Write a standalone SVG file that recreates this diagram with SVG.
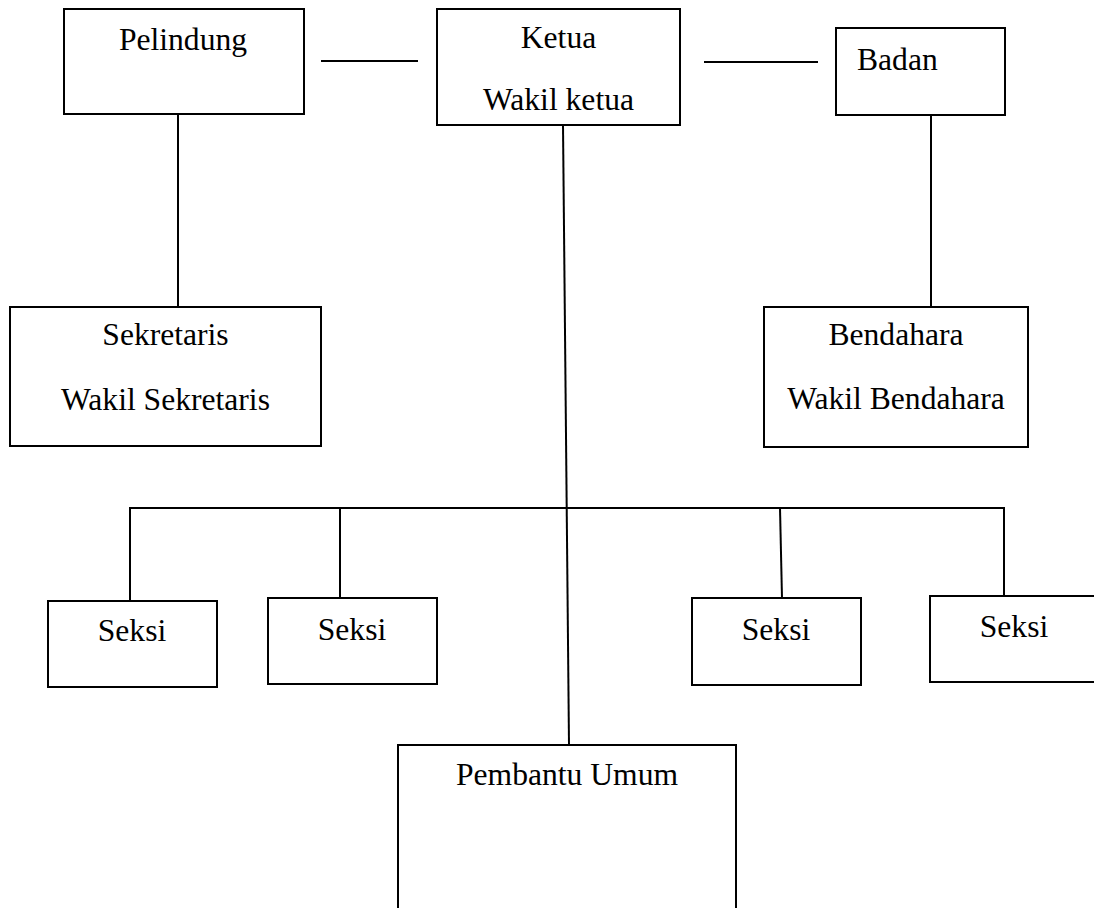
<svg xmlns="http://www.w3.org/2000/svg" width="1094" height="908" viewBox="0 0 1094 908">
<style>
.box{fill:#fff;stroke:#000;stroke-width:2}
.ln{stroke:#000;stroke-width:2;fill:none}
text{font-family:"Liberation Serif","Times New Roman",serif;font-size:31.6px;fill:#000}
.c{text-anchor:middle}
</style>
<rect width="1094" height="908" fill="#fff"/>
<g id="connectors">
<line class="ln" x1="321" y1="61" x2="418" y2="61"/>
<line class="ln" x1="704" y1="62" x2="818" y2="62"/>
<line class="ln" x1="178" y1="114" x2="178" y2="307"/>
<line class="ln" x1="931" y1="115" x2="931" y2="307"/>
<line class="ln" x1="563" y1="125" x2="569" y2="745"/>
<line class="ln" x1="129" y1="508" x2="1005" y2="508"/>
<line class="ln" x1="130" y1="508" x2="130" y2="601"/>
<line class="ln" x1="340" y1="508" x2="340" y2="598"/>
<line class="ln" x1="780" y1="508" x2="782" y2="598"/>
<line class="ln" x1="1004" y1="508" x2="1004" y2="596"/>
</g>
<g id="pelindung">
<rect class="box" x="64" y="9" width="240" height="105"/>
<text class="c" x="183" y="50">Pelindung</text>
</g>
<g id="ketua">
<rect class="box" x="437" y="9" width="243" height="116"/>
<text class="c" x="558.5" y="48">Ketua</text>
<text class="c" x="558.5" y="110">Wakil ketua</text>
</g>
<g id="badan">
<rect class="box" x="836" y="28" width="169" height="87"/>
<text x="857" y="70">Badan</text>
</g>
<g id="sekretaris">
<rect class="box" x="10" y="307" width="311" height="139"/>
<text class="c" x="165.5" y="345">Sekretaris</text>
<text class="c" x="165.5" y="410">Wakil Sekretaris</text>
</g>
<g id="bendahara">
<rect class="box" x="764" y="307" width="264" height="140"/>
<text class="c" x="896" y="345">Bendahara</text>
<text class="c" x="896" y="409">Wakil Bendahara</text>
</g>
<g id="seksi1">
<rect class="box" x="48" y="601" width="169" height="86"/>
<text class="c" x="132" y="641">Seksi</text>
</g>
<g id="seksi2">
<rect class="box" x="268" y="598" width="169" height="86"/>
<text class="c" x="352" y="640">Seksi</text>
</g>
<g id="seksi3">
<rect class="box" x="692" y="598" width="169" height="87"/>
<text class="c" x="776" y="640">Seksi</text>
</g>
<g id="seksi4">
<rect class="box" x="930" y="596" width="170" height="86"/>
<text class="c" x="1014" y="637">Seksi</text>
</g>
<g id="pembantu">
<rect class="box" x="398" y="745" width="338" height="180"/>
<text class="c" x="567" y="785">Pembantu Umum</text>
</g>
</svg>
